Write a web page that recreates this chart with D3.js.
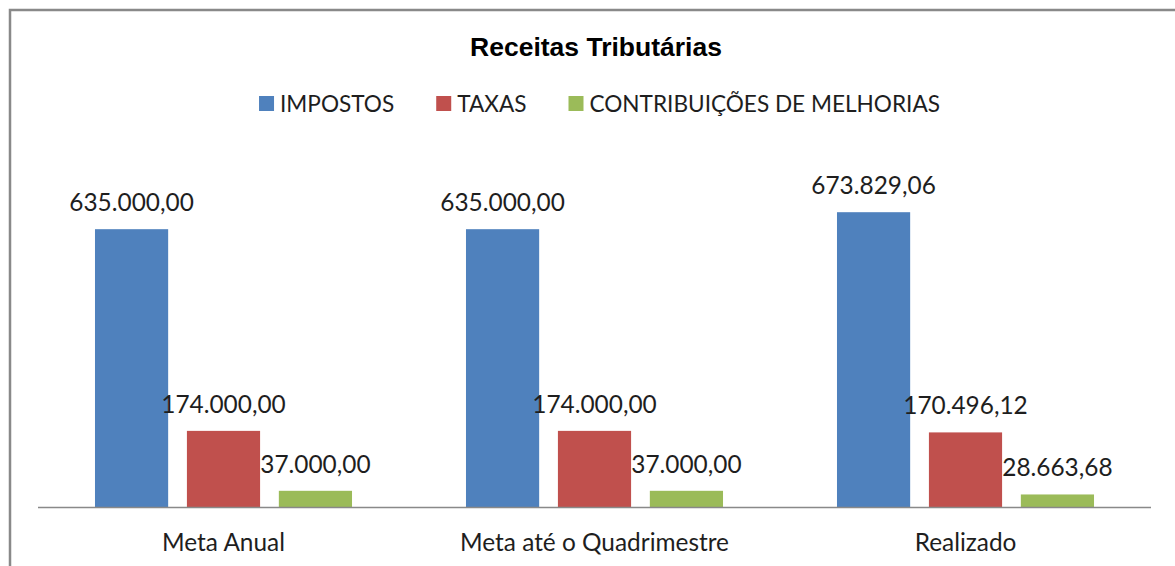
<!DOCTYPE html>
<html>
<head>
<meta charset="utf-8">
<script src="https://cdn.jsdelivr.net/npm/d3@7"></script>
<style>
  html, body { margin: 0; padding: 0; background: #fff; }
  svg { display: block; }
</style>
</head>
<body>
<svg id="chart" width="1175" height="566"></svg>
<script>
const title = "Receitas Tributárias";
const categories = ["Meta Anual", "Meta até o Quadrimestre", "Realizado"];
const seriesNames = ["IMPOSTOS", "TAXAS", "CONTRIBUIÇÕES DE MELHORIAS"];
const impostos = [635000.00, 635000.00, 673829.06];
const taxas = [174000.00, 174000.00, 170496.12];
const contribuicoes = [37000.00, 37000.00, 28663.68];
const seriesColors = ["#4F81BD", "#C0504D", "#9BBB59"];

const seriesValues = [impostos, taxas, contribuicoes];

const svg = d3.select("#chart");
const W = 1175, H = 566;
const FONT = "Lato, 'Open Sans', sans-serif";
const FS = 24.4;
const LFS = 22.6;

// outer frame
svg.append("rect")
  .attr("x", 10).attr("y", 10)
  .attr("width", W + 20).attr("height", H + 20)
  .attr("fill", "#fff")
  .attr("stroke", "#898989")
  .attr("stroke-width", 2.5);

// title
svg.append("text")
  .attr("x", 596).attr("y", 56)
  .attr("text-anchor", "middle")
  .attr("font-family", "'Liberation Sans', Arial, sans-serif")
  .attr("font-weight", "bold")
  .attr("font-size", 26.5)
  .attr("fill", "#000")
  .text(title);

// scales
const plotLeft = 38, plotRight = 1151, plotBottom = 507, plotTop = 157;
const x0 = d3.scaleBand().domain(categories).range([plotLeft, plotRight]).padding(0);
const bw = x0.bandwidth();
const x1 = d3.scaleBand().domain(seriesNames)
  .range([bw * 0.1536, bw * 0.8464])
  .paddingInner(0.204).paddingOuter(0);
const y = d3.scaleLinear().domain([0, 800000]).range([plotBottom, plotTop]);

const fmt = v => {
  const s = v.toFixed(2);
  let [int, dec] = s.split(".");
  int = int.replace(/\B(?=(\d{3})+(?!\d))/g, ".");
  return int + "," + dec;
};

const rows = categories.map((c, i) => ({
  cat: c,
  vals: seriesNames.map((s, j) => ({ s, j, v: seriesValues[j][i] }))
}));

const groups = svg.append("g").selectAll("g")
  .data(rows).join("g")
  .attr("transform", d => `translate(${x0(d.cat)},0)`);

groups.selectAll("rect")
  .data(d => d.vals).join("rect")
  .attr("x", d => x1(d.s))
  .attr("width", x1.bandwidth())
  .attr("y", d => y(d.v))
  .attr("height", d => y(0) - y(d.v))
  .attr("fill", d => seriesColors[d.j]);

groups.selectAll("text")
  .data(d => d.vals).join("text")
  .attr("x", d => x1(d.s) + x1.bandwidth() / 2)
  .attr("y", d => y(d.v) - 18)
  .attr("text-anchor", "middle")
  .attr("font-family", FONT)
  .attr("font-size", FS)
  .attr("fill", "#1e1e1e")
  .text(d => fmt(d.v));

// category axis
const xAxis = svg.append("g")
  .attr("transform", `translate(0,${plotBottom})`)
  .call(d3.axisBottom(x0).tickSize(0).tickPadding(0));
xAxis.select(".domain").attr("stroke", "#898989").attr("stroke-width", 1.5)
  .attr("d", `M${plotLeft},0.5H${plotRight}`);
xAxis.selectAll(".tick text")
  .attr("y", 44).attr("dy", null)
  .attr("font-family", FONT)
  .attr("font-size", FS)
  .attr("fill", "#1e1e1e");

// legend
const legend = svg.append("g");
const items = legend.selectAll("g").data(seriesNames).join("g");
items.append("rect")
  .attr("width", 15).attr("height", 15)
  .attr("y", 96)
  .attr("fill", (d, i) => seriesColors[i]);
items.append("text")
  .attr("x", 21).attr("y", 112)
  .attr("font-family", FONT)
  .attr("font-size", LFS)
  .attr("fill", "#1e1e1e")
  .text(d => d);
const widths = [];
items.each(function() {
  const t = d3.select(this).select("text").node().getComputedTextLength();
  widths.push(21 + t);
});
const gap = 42;
const total = d3.sum(widths) + gap * (widths.length - 1);
let start = 599.5 - total / 2;
items.attr("transform", (d, i) => {
  const tx = start;
  start += widths[i] + gap;
  return `translate(${tx},0)`;
});
</script>
</body>
</html>
